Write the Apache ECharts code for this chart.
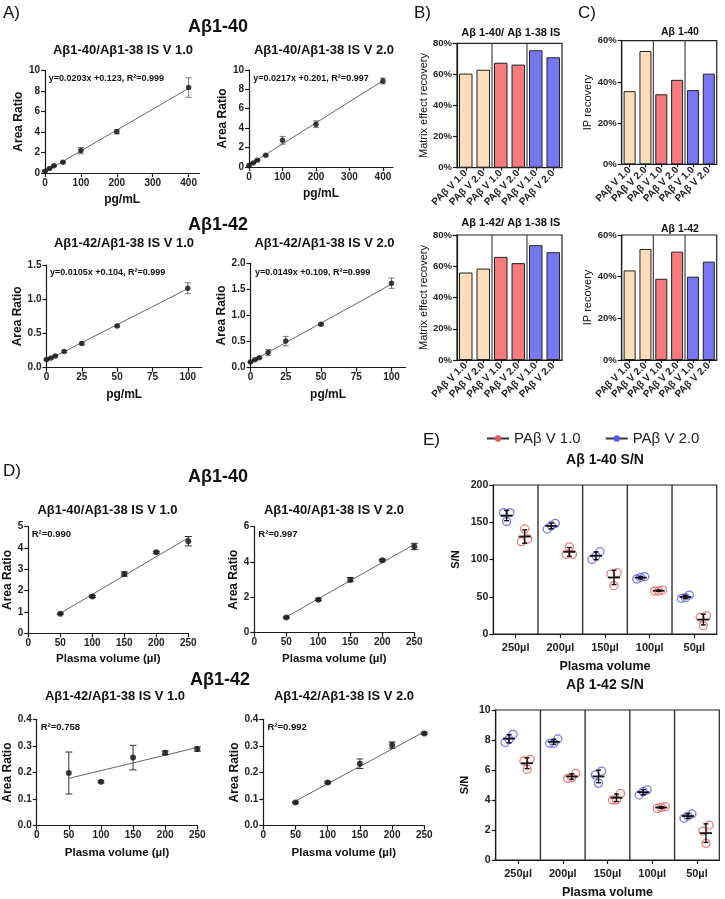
<!DOCTYPE html>
<html><head><meta charset="utf-8">
<script src="https://cdn.jsdelivr.net/npm/echarts@6/dist/echarts.min.js"></script>
<style>html,body{margin:0;padding:0;background:#fff;}#c{width:725px;height:899px;}</style>
</head><body><div id="c"></div>
<script>
// ================= DATA =================
// Panel A: calibration curves
const aConc40 = [0, 12.5, 25, 50, 100, 200, 400];
const aConc42 = [0, 3.125, 6.25, 12.5, 25, 50, 100];
const a40V1 = [0.16, 0.43, 0.70, 1.05, 2.18, 4.02, 8.32];
const a40V1Err = [0.03, 0.04, 0.05, 0.08, 0.30, 0.20, 0.95];
const a40V2 = [0.15, 0.42, 0.70, 1.20, 2.75, 4.40, 8.85];
const a40V2Err = [0.03, 0.04, 0.05, 0.08, 0.40, 0.35, 0.30];
const a42V1 = [0.12, 0.14, 0.17, 0.235, 0.355, 0.61, 1.16];
const a42V1Err = [0.01, 0.01, 0.01, 0.015, 0.02, 0.015, 0.08];
const a42V2 = [0.11, 0.15, 0.19, 0.29, 0.51, 0.83, 1.62];
const a42V2Err = [0.01, 0.01, 0.015, 0.06, 0.09, 0.02, 0.10];
const aSlope = [0.0203, 0.0217, 0.0105, 0.0149];
const aIntercept = [0.123, 0.201, 0.104, 0.109];
const aR2 = ['0.999', '0.997', '0.999', '0.999'];
const aTicksX40 = [0, 100, 200, 300, 400];
const aTicksY40 = [0, 2, 4, 6, 8, 10];
const aTicksX42 = [0, 25, 50, 75, 100];
const aTicksY42V1 = [0, 0.5, 1.0, 1.5];
const aTicksY42V2 = [0, 0.5, 1.0, 1.5, 2.0];

// Panel B / C: recoveries (%)
const barLabels = ['PAβ V 1.0', 'PAβ V 2.0', 'PAβ V 1.0', 'PAβ V 2.0', 'PAβ V 1.0', 'PAβ V 2.0'];
const bMatrix40 = [60.5, 63, 67.5, 66.3, 75.5, 71];
const bMatrix42 = [56, 58.5, 66, 62, 73.5, 69];
const cIP40 = [35.5, 55, 34, 41, 36, 44];
const cIP42 = [43, 53.3, 39, 52, 40, 47.2];
const bTicksY = [0, 20, 40, 60, 80];
const cTicksY = [0, 20, 40, 60];

// Panel D: plasma volume linearity
const dVol = [50, 100, 150, 200, 250];
const d40V1 = [0.92, 1.73, 2.78, 3.80, 4.32];
const d40V1Err = [0.03, 0.05, 0.10, 0.05, 0.22];
const d40V2 = [0.86, 1.87, 3.00, 4.10, 4.88];
const d40V2Err = [0.03, 0.05, 0.12, 0.05, 0.18];
const d42V1 = [0.198, 0.165, 0.256, 0.274, 0.288];
const d42V1Err = [0.079, 0.004, 0.046, 0.007, 0.008];
const d42V2 = [0.087, 0.162, 0.233, 0.303, 0.347];
const d42V2Err = [0.003, 0.004, 0.018, 0.012, 0.004];
const dFitStart = [0.94, 0.89, 0.178, 0.093];   // fit line value at 50 µl
const dFitEnd = [4.48, 5.00, 0.294, 0.353];      // fit line value at 250 µl
const dR2 = ['0.990', '0.997', '0.758', '0.992'];
const dTicksX = [0, 50, 100, 150, 200, 250];
const dTicksY40V1 = [0, 1, 2, 3, 4, 5];
const dTicksY40V2 = [0, 2, 4, 6];
const dTicksY42 = [0, 0.1, 0.2, 0.3, 0.4];

// Panel E: S/N
const eVolumes = ['250µl', '200µl', '150µl', '100µl', '50µl'];
const e40V2Reps = [[163, 163, 151], [141, 148.5, 145.4], [110.5, 100, 104.7], [73.8, 77, 76], [48.8, 52.3, 47.9]];
const e40V2Mean = [159, 145, 105, 75.6, 49.7];
const e40V2Sd = [6.9, 3.8, 5.3, 1.7, 2.3];
const e40V1Reps = [[141, 124, 127.5], [117, 107, 107], [82.3, 80.5, 64.9], [57.7, 59, 57.7], [24.6, 22.4, 11.2]];
const e40V1Mean = [130.8, 110.3, 75.9, 58.1, 19.4];
const e40V1Sd = [9, 5.8, 9.6, 0.8, 7.2];
const e42V2Reps = [[8.38, 7.84, 8.04], [8.07, 7.78, 7.78], [5.93, 5.67, 5.11], [4.33, 4.67, 4.56], [2.78, 3.07, 2.93]];
const e42V2Mean = [8.09, 7.88, 5.57, 4.52, 2.93];
const e42V2Sd = [0.27, 0.17, 0.42, 0.17, 0.15];
const e42V1Reps = [[6.71, 6.6, 6.04], [5.78, 5.44, 5.49], [4.44, 4.0, 4.0], [3.44, 3.56, 3.51], [2.33, 1.93, 1.11]];
const e42V1Mean = [6.45, 5.57, 4.15, 3.5, 1.79];
const e42V1Sd = [0.36, 0.18, 0.25, 0.06, 0.62];
const eTicksY40 = [0, 50, 100, 150, 200];
const eTicksY42 = [0, 2, 4, 6, 8, 10];
const legendNames = ['PAβ V 1.0', 'PAβ V 2.0'];

// ================= STYLE / LAYOUT =================
const FONT = '"Liberation Sans", Arial, Helvetica, sans-serif';
const AXC = '#1a1a1a';
const TAN = '#FDDDBA', RED = '#F67A7D', BLUE = '#7777F3';
const barColors = [TAN, TAN, RED, RED, BLUE, BLUE];
const E_RED = '#E85A5C', E_BLUE = '#5A5AE6';

const rects = [
  [45, 70.3, 154.4, 102.7],    // 0 A1
  [249, 69.8, 144, 97.2],      // 1 A2
  [46.5, 265, 155.4, 102.7],   // 2 A3
  [250.5, 263.3, 155.1, 104.4],// 3 A4
  [28.3, 526.7, 160, 106.6],   // 4 D1
  [254.3, 526.7, 160, 106],    // 5 D2
  [36.7, 719.3, 160.6, 106.4], // 6 D3
  [263.3, 719.3, 161, 106.4],  // 7 D4
  [457, 43.3, 105, 124.4],     // 8 B1
  [457, 235, 105, 125],        // 9 B2
  [621.7, 40.7, 95, 123.6],    // 10 C1
  [621.7, 235, 95, 125],       // 11 C2
  [493.3, 485, 223.4, 149],    // 12 E1
  [495.7, 710, 223.6, 150]     // 13 E2
];
const framed = [8, 9, 10, 11, 12, 13];
const grids = rects.map((r, i) => ({
  left: r[0], top: r[1], width: r[2], height: r[3], containLabel: false, outerBoundsMode: 'none',
  show: framed.includes(i), borderColor: '#222', borderWidth: 1.2, backgroundColor: 'rgba(0,0,0,0)'
}));

function vAxis(grid, min, max, ticks, o) {
  o = o || {};
  return {
    type: 'value', gridIndex: grid, min: min, max: max,
    name: o.name || '', nameLocation: 'middle', nameGap: o.gap == null ? 20 : o.gap,
    nameTextStyle: {fontFamily: FONT, fontWeight: o.nameWeight || 'bold', fontSize: o.nameSize || 12, color: '#111'},
    axisLine: {show: true, onZero: false, lineStyle: {color: AXC, width: 1.2}},
    axisTick: {show: true, length: 4, customValues: ticks, lineStyle: {color: AXC, width: 1.2}},
    axisLabel: {customValues: ticks, fontFamily: FONT, fontWeight: 'bold', fontSize: o.labelSize || 10,
      color: '#222', margin: o.margin || 5, formatter: o.fmt || (v => String(v))},
    splitLine: {show: false}
  };
}
function cAxis(grid, n, labels, o) {
  o = o || {};
  const cats = [];
  for (let i = 0; i < n; i++) cats.push('c' + i);
  return {
    type: 'category', gridIndex: grid, data: cats, boundaryGap: true,
    name: o.name || '', nameLocation: 'middle', nameGap: o.gap || 20,
    nameTextStyle: {fontFamily: FONT, fontWeight: 'bold', fontSize: o.nameSize || 12.5, color: '#111'},
    axisLine: {show: true, onZero: false, lineStyle: {color: AXC, width: 1.2}},
    axisTick: {show: true, alignWithLabel: true, length: o.tickLen || 4, lineStyle: {color: AXC, width: 1.2}},
    axisLabel: {interval: 0, rotate: o.rotate || 0, fontFamily: FONT, fontWeight: 'bold', fontSize: o.labelSize || 10,
      color: '#222', margin: o.margin || 6, formatter: (v, i) => labels[i]},
    splitLine: {show: false}
  };
}
const f1 = v => v.toFixed(1);
const pct = v => v + '%';
const DN = 'Plasma volume (µl)';

const xAxes = [
  vAxis(0, 0, 430, aTicksX40, {name: 'pg/mL', gap: 21}),
  vAxis(1, 0, 430, aTicksX40, {name: 'pg/mL', gap: 21}),
  vAxis(2, 0, 110, aTicksX42, {name: 'pg/mL', gap: 21}),
  vAxis(3, 0, 110, aTicksX42, {name: 'pg/mL', gap: 21}),
  vAxis(4, 0, 250, dTicksX, {name: DN, gap: 20, nameSize: 11.5}),
  vAxis(5, 0, 250, dTicksX, {name: DN, gap: 20, nameSize: 11.5}),
  vAxis(6, 0, 250, dTicksX, {name: DN, gap: 21, nameSize: 11.5}),
  vAxis(7, 0, 250, dTicksX, {name: DN, gap: 21, nameSize: 11.5}),
  cAxis(8, 6, barLabels, {rotate: 45, labelSize: 10, margin: 4, tickLen: 3}),
  cAxis(9, 6, barLabels, {rotate: 45, labelSize: 10, margin: 4, tickLen: 3}),
  cAxis(10, 6, barLabels, {rotate: 45, labelSize: 10, margin: 4, tickLen: 3}),
  cAxis(11, 6, barLabels, {rotate: 45, labelSize: 10, margin: 4, tickLen: 3}),
  cAxis(12, 5, eVolumes, {name: 'Plasma volume', gap: 26, labelSize: 11, margin: 8}),
  cAxis(13, 5, eVolumes, {name: 'Plasma volume', gap: 26, labelSize: 11, margin: 8})
];
const yAxes = [
  vAxis(0, 0, 10, aTicksY40, {name: 'Area Ratio', gap: 18}),
  vAxis(1, 0, 10, aTicksY40, {name: 'Area Ratio', gap: 18}),
  vAxis(2, 0, 1.5, aTicksY42V1, {name: 'Area Ratio', gap: 21, fmt: f1}),
  vAxis(3, 0, 2.0, aTicksY42V2, {name: 'Area Ratio', gap: 20, fmt: f1}),
  vAxis(4, 0, 5, dTicksY40V1, {name: 'Area Ratio', gap: 10}),
  vAxis(5, 0, 6, dTicksY40V2, {name: 'Area Ratio', gap: 9}),
  vAxis(6, 0, 0.4, dTicksY42, {name: 'Area Ratio', gap: 22, fmt: f1}),
  vAxis(7, 0, 0.4, dTicksY42, {name: 'Area Ratio', gap: 22, fmt: f1}),
  vAxis(8, 0, 80, bTicksY, {name: 'Matrix effect recovery', gap: 20, nameWeight: 'normal', nameSize: 11, labelSize: 9.5, fmt: pct}),
  vAxis(9, 0, 80, bTicksY, {name: 'Matrix effect recovery', gap: 20, nameWeight: 'normal', nameSize: 11, labelSize: 9.5, fmt: pct}),
  vAxis(10, 0, 60, cTicksY, {name: 'IP recovery', gap: 25, nameWeight: 'normal', nameSize: 11, labelSize: 9.5, fmt: pct}),
  vAxis(11, 0, 60, cTicksY, {name: 'IP recovery', gap: 25, nameWeight: 'normal', nameSize: 11, labelSize: 9.5, fmt: pct}),
  vAxis(12, 0, 200, eTicksY40, {name: 'S/N', gap: 32, nameSize: 11, labelSize: 10.5}),
  vAxis(13, 0, 10, eTicksY42, {name: 'S/N', gap: 25, nameSize: 11, labelSize: 10.5})
];

// ---------- series builders ----------
function errSeries(g, xs, ys, errs, color, half) {
  return {
    type: 'custom', xAxisIndex: g, yAxisIndex: g, silent: true, z: 2,
    data: xs.map((x, i) => [x, ys[i], errs[i]]),
    renderItem: function (p, api) {
      const x = api.value(0), y = api.value(1), e = api.value(2);
      const t = api.coord([x, y + e]), b = api.coord([x, y - e]);
      const st = {stroke: color, lineWidth: 1};
      return {type: 'group', children: [
        {type: 'line', shape: {x1: t[0], y1: t[1], x2: b[0], y2: b[1]}, style: st},
        {type: 'line', shape: {x1: t[0] - half, y1: t[1], x2: t[0] + half, y2: t[1]}, style: st},
        {type: 'line', shape: {x1: b[0] - half, y1: b[1], x2: b[0] + half, y2: b[1]}, style: st}
      ]};
    }
  };
}
function dotSeries(g, xs, ys, size) {
  return {type: 'scatter', xAxisIndex: g, yAxisIndex: g, silent: true, z: 3, symbolSize: size,
    itemStyle: {color: '#111'}, data: xs.map((x, i) => [x, ys[i]])};
}
function fitSeries(g, pts) {
  return {type: 'line', xAxisIndex: g, yAxisIndex: g, silent: true, z: 1, symbol: 'none',
    lineStyle: {color: '#555', width: 0.9}, data: pts};
}
function barSeries(g, vals) {
  return {type: 'bar', xAxisIndex: g, yAxisIndex: g, silent: true, barWidth: g >= 10 ? 12 : 13.5,
    data: vals.map((v, i) => ({value: v, itemStyle: {color: barColors[i], borderColor: '#222', borderWidth: 1}}))};
}
function dividerSeries(g, bounds, color, w) {
  return {
    type: 'custom', xAxisIndex: g, yAxisIndex: g, silent: true, z: 1,
    data: bounds.map(b => [b, 0]),
    renderItem: function (p, api) {
      const c = api.coord([api.value(0), 0]);
      const bw = api.size([1, 0])[0];
      const x = c[0] - bw / 2;
      const cs = p.coordSys;
      return {type: 'line', shape: {x1: x, y1: cs.y, x2: x, y2: cs.y + cs.height}, style: {stroke: color, lineWidth: w}};
    }
  };
}
function jitter(vals, thr) {
  const idx = vals.map((v, i) => i).sort((a, b) => vals[a] - vals[b]);
  const off = vals.map(() => 0);
  const clusters = [];
  let cur = [idx[0]];
  for (let k = 1; k < idx.length; k++) {
    if (vals[idx[k]] - vals[idx[k - 1]] < thr) cur.push(idx[k]);
    else { clusters.push(cur); cur = [idx[k]]; }
  }
  clusters.push(cur);
  clusters.forEach(c => {
    const n = c.length, sp = n === 2 ? 6.4 : 4;
    c.forEach((id, j) => { off[id] = (j - (n - 1) / 2) * sp; });
  });
  return off;
}
function repSeries(g, reps, base, color, thr) {
  const data = [];
  reps.forEach((grp, ci) => {
    const off = jitter(grp, thr);
    grp.forEach((v, k) => data.push({value: [ci, v], symbolOffset: [base + off[k], 0]}));
  });
  return {type: 'scatter', xAxisIndex: g, yAxisIndex: g, silent: true, z: 3, symbol: 'circle', symbolSize: 8,
    itemStyle: {color: 'rgba(255,255,255,0)', borderColor: color, borderWidth: 1.3}, data};
}
function meanSdSeries(g, means, sds, base) {
  return {
    type: 'custom', xAxisIndex: g, yAxisIndex: g, silent: true, z: 5,
    data: means.map((m, i) => [i, m, sds[i]]),
    renderItem: function (p, api) {
      const ci = api.value(0), m = api.value(1), s = api.value(2);
      const c = api.coord([ci, m]);
      const x = c[0] + base;
      const t = api.coord([ci, m + s])[1], b = api.coord([ci, m - s])[1];
      const st = {stroke: '#111', lineWidth: 1.4};
      return {type: 'group', children: [
        {type: 'line', shape: {x1: x - 6, y1: c[1], x2: x + 6, y2: c[1]}, style: {stroke: '#111', lineWidth: 1.8}},
        {type: 'line', shape: {x1: x, y1: t, x2: x, y2: b}, style: st},
        {type: 'line', shape: {x1: x - 2.5, y1: t, x2: x + 2.5, y2: t}, style: st},
        {type: 'line', shape: {x1: x - 2.5, y1: b, x2: x + 2.5, y2: b}, style: st}
      ]};
    }
  };
}
function aFitPts(k, xs) {
  const x0 = xs[0], x1 = xs[xs.length - 1];
  return [[x0, aSlope[k] * x0 + aIntercept[k]], [x1, aSlope[k] * x1 + aIntercept[k]]];
}
function dFitPts(k) {
  return [[dVol[0], dFitStart[k]], [dVol[dVol.length - 1], dFitEnd[k]]];
}

const series = [];
// A
[[0, aConc40, a40V1, a40V1Err], [1, aConc40, a40V2, a40V2Err], [2, aConc42, a42V1, a42V1Err], [3, aConc42, a42V2, a42V2Err]]
  .forEach(([g, xs, ys, es]) => {
    series.push(fitSeries(g, aFitPts(g, xs)));
    series.push(errSeries(g, xs, ys, es, '#777', 3));
    series.push(dotSeries(g, xs, ys, 5.5));
  });
// D
[[4, d40V1, d40V1Err], [5, d40V2, d40V2Err], [6, d42V1, d42V1Err], [7, d42V2, d42V2Err]]
  .forEach(([g, ys, es], k) => {
    series.push(fitSeries(g, dFitPts(k)));
    series.push(errSeries(g, dVol, ys, es, '#333', 3.5));
    series.push(dotSeries(g, dVol, ys, 6));
  });
// B, C
[[8, bMatrix40], [9, bMatrix42], [10, cIP40], [11, cIP42]].forEach(([g, v]) => {
  series.push(barSeries(g, v));
  series.push(dividerSeries(g, [2, 4], '#444', 1.2));
});
// E
series.push(dividerSeries(12, [1, 2, 3, 4], '#333', 1.4));
series.push(dividerSeries(13, [1, 2, 3, 4], '#333', 1.4));
series.push(repSeries(12, e40V2Reps, -9, E_BLUE, 9));
series.push(repSeries(12, e40V1Reps, 9, E_RED, 9));
series.push(repSeries(13, e42V2Reps, -9, E_BLUE, 0.45));
series.push(repSeries(13, e42V1Reps, 9, E_RED, 0.45));
series.push(meanSdSeries(12, e40V2Mean, e40V2Sd, -9));
series.push(meanSdSeries(12, e40V1Mean, e40V1Sd, 9));
series.push(meanSdSeries(13, e42V2Mean, e42V2Sd, -9));
series.push(meanSdSeries(13, e42V1Mean, e42V1Sd, 9));
// legend entries
series.push({type: 'line', name: legendNames[0], xAxisIndex: 12, yAxisIndex: 12, data: [], symbol: 'circle', symbolSize: 7,
  itemStyle: {color: E_RED}, lineStyle: {color: '#333', width: 1.2}});
series.push({type: 'line', name: legendNames[1], xAxisIndex: 12, yAxisIndex: 12, data: [], symbol: 'circle', symbolSize: 7,
  itemStyle: {color: E_BLUE}, lineStyle: {color: '#333', width: 1.2}});

// ---------- texts ----------
function T(x, y, text, size, weight, align) {
  align = align || 'center';
  return {type: 'text', x: x, y: y, silent: true, z: 10,
    style: {text: text, font: weight + ' ' + size + 'px ' + FONT, fill: '#111',
      align: align, textAlign: align, verticalAlign: 'middle', textVerticalAlign: 'middle'}};
}
const eq = k => 'y=' + aSlope[k] + 'x +' + aIntercept[k] + ', R²=' + aR2[k];
const graphics = [
  T(3, 13.5, 'A)', 17, 'normal', 'left'),
  T(414, 13, 'B)', 17, 'normal', 'left'),
  T(578, 13, 'C)', 17, 'normal', 'left'),
  T(3, 471, 'D)', 17, 'normal', 'left'),
  T(423, 440, 'E)', 17, 'normal', 'left'),
  T(218, 27, 'Aβ1-40', 18, 'bold'),
  T(218, 225, 'Aβ1-42', 18, 'bold'),
  T(218, 476.7, 'Aβ1-40', 18, 'bold'),
  T(220, 680, 'Aβ1-42', 18, 'bold'),
  T(123, 50, 'Aβ1-40/Aβ1-38 IS V 1.0', 13, 'bold'),
  T(324, 50, 'Aβ1-40/Aβ1-38 IS V 2.0', 13, 'bold'),
  T(124, 243.3, 'Aβ1-42/Aβ1-38 IS V 1.0', 13, 'bold'),
  T(324.5, 243.3, 'Aβ1-42/Aβ1-38 IS V 2.0', 13, 'bold'),
  T(107.5, 510, 'Aβ1-40/Aβ1-38 IS V 1.0', 13, 'bold'),
  T(334, 510, 'Aβ1-40/Aβ1-38 IS V 2.0', 13, 'bold'),
  T(115, 696.7, 'Aβ1-42/Aβ1-38 IS V 1.0', 13, 'bold'),
  T(344, 696.7, 'Aβ1-42/Aβ1-38 IS V 2.0', 13, 'bold'),
  T(48.7, 79, eq(0), 9, 'bold', 'left'),
  T(253.3, 79, eq(1), 9, 'bold', 'left'),
  T(50, 272.7, eq(2), 9, 'bold', 'left'),
  T(255, 272.7, eq(3), 9, 'bold', 'left'),
  T(31.7, 534, 'R²=' + dR2[0], 9.5, 'bold', 'left'),
  T(258.3, 534, 'R²=' + dR2[1], 9.5, 'bold', 'left'),
  T(40.7, 727.3, 'R²=' + dR2[2], 9.5, 'bold', 'left'),
  T(267.5, 727.3, 'R²=' + dR2[3], 9.5, 'bold', 'left'),
  T(510.8, 32.7, 'Aβ 1-40/ Aβ 1-38 IS', 11, 'bold'),
  T(510.8, 222.7, 'Aβ 1-42/ Aβ 1-38 IS', 11, 'bold'),
  T(680, 31.7, 'Aβ 1-40', 10.5, 'bold'),
  T(680, 229.3, 'Aβ 1-42', 10.5, 'bold'),
  T(605, 460, 'Aβ 1-40 S/N', 14, 'bold'),
  T(605, 685, 'Aβ 1-42 S/N', 14, 'bold')
];

const option = {
  animation: false,
  backgroundColor: '#fff',
  textStyle: {fontFamily: FONT},
  grid: grids,
  xAxis: xAxes,
  yAxis: yAxes,
  legend: {left: 486, top: 431, padding: 0, itemWidth: 22, itemHeight: 8, itemGap: 24,
    data: legendNames, selectedMode: false,
    textStyle: {fontFamily: FONT, fontSize: 15, color: '#222'}},
  series: series,
  graphic: graphics
};
const chart = echarts.init(document.getElementById('c'), null, {renderer: 'canvas'});
chart.setOption(option);
</script></body></html>
